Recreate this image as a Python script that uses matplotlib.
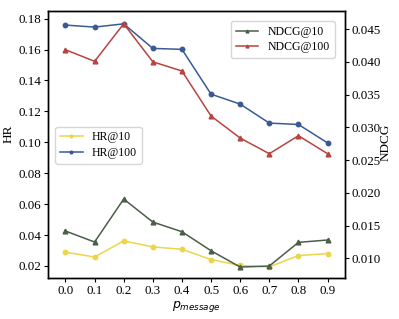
import matplotlib
matplotlib.use("Agg")
import matplotlib.pyplot as plt

x = [0.0, 0.1, 0.2, 0.3, 0.4, 0.5, 0.6, 0.7, 0.8, 0.9]
hr10 = [0.0289, 0.0258, 0.0362, 0.0323, 0.0308, 0.0241, 0.0203, 0.0194, 0.0267, 0.0280]
hr100 = [0.1758, 0.1745, 0.1766, 0.1607, 0.1601, 0.1311, 0.1247, 0.1124, 0.1115, 0.0996]
ndcg10 = [0.01417, 0.01249, 0.01905, 0.01554, 0.01406, 0.01116, 0.00867, 0.00883, 0.01244, 0.01280]
ndcg100 = [0.04184, 0.04007, 0.04580, 0.04000, 0.03859, 0.03172, 0.02836, 0.02597, 0.02872, 0.02597]
hr_ticks = [0.02, 0.04, 0.06, 0.08, 0.10, 0.12, 0.14, 0.16, 0.18]
ndcg_ticks = [0.010, 0.015, 0.020, 0.025, 0.030, 0.035, 0.040, 0.045]

serif = ["Liberation Serif", "DejaVu Serif"]
plt.rcParams["font.family"] = serif
plt.rcParams["mathtext.fontset"] = "dejavusans"

fig = plt.figure(figsize=(3.99, 3.19), dpi=100)
ax = fig.add_axes([0.1203, 0.1285, 0.7444, 0.837])
ax2 = ax.twinx()

c_y = "#ecd54a"
c_b = "#3a5a95"
c_r = "#b84340"
c_g = "#4b5e48"

l1, = ax.plot(x, hr10, color=c_y, marker="o", markersize=3.2, linewidth=1.1, label="HR@10")
l2, = ax.plot(x, hr100, color=c_b, marker="o", markersize=3.2, linewidth=1.1, label="HR@100")
l3, = ax2.plot(x, ndcg10, color=c_g, marker="^", markersize=3.4, linewidth=1.1, label="NDCG@10")
l4, = ax2.plot(x, ndcg100, color=c_r, marker="^", markersize=3.4, linewidth=1.1, label="NDCG@100")

ax.set_xlim(-0.06, 0.96)
ax.set_ylim(0.0122, 0.1849)
ax2.set_ylim(0.0070, 0.04775)
ax.set_xticks(x)
ax.set_xticklabels([f"{v:.1f}" for v in x])
ax.set_yticks(hr_ticks)
ax.set_yticklabels([f"{v:.2f}" for v in hr_ticks])
ax2.set_yticks(ndcg_ticks)
ax2.set_yticklabels([f"{v:.3f}" for v in ndcg_ticks])

for a in (ax, ax2):
    a.tick_params(labelsize=9.4, length=3, width=0.8, pad=2)
    for s in a.spines.values():
        s.set_linewidth(1.0)

ax.set_ylabel("HR", fontsize=9.5)
ax.yaxis.set_label_coords(-0.111, 0.539)
ax2.set_ylabel("NDCG", fontsize=9.5)
ax2.yaxis.set_label_coords(1.118, 0.509)
ax.set_xlabel("$p_{message}$", fontsize=9)
ax.xaxis.set_label_coords(0.5, -0.078)

ax.legend(handles=[l1, l2], loc="center left", bbox_to_anchor=(0.005, 0.498), fontsize=8.5,
          handlelength=1.9, markerscale=0.6, borderpad=0.4, labelspacing=0.3)
ax2.legend(handles=[l3, l4], loc="upper right", bbox_to_anchor=(0.985, 0.985), fontsize=8.5,
           handlelength=1.9, markerscale=0.6, borderpad=0.4, labelspacing=0.3)

fig.savefig("out.png", dpi=100)
